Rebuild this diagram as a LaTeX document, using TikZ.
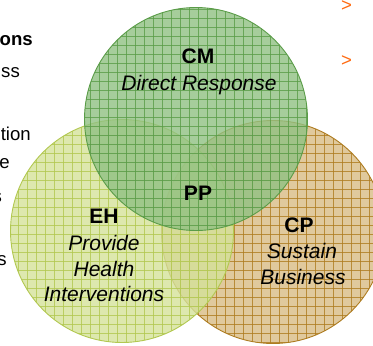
\documentclass[tikz,border=0pt]{standalone}
\usepackage{fontspec}
\setmainfont{Liberation Sans}
\usetikzlibrary{positioning}

\definecolor{cmfill}{HTML}{90C182}
\definecolor{cmline}{HTML}{5A9C48}
\definecolor{ehfill}{HTML}{D4E29A}
\definecolor{ehline}{HTML}{B2C850}
\definecolor{cpfill}{HTML}{D8BB84}
\definecolor{cpline}{HTML}{AE7C20}
\definecolor{arrowor}{HTML}{FF6A10}

\tikzset{
  title/.style={font=\fontsize{21}{25}\selectfont\bfseries, anchor=base, inner sep=0pt},
  sub/.style={font=\fontsize{21}{25}\selectfont\itshape, anchor=base, inner sep=0pt},
  side/.style={font=\fontsize{18.6}{22}\selectfont, anchor=base east, inner sep=0pt},
  bullet/.style={font=\fontsize{18.6}{22}\selectfont, text=arrowor, anchor=base west, inner sep=0pt}
}

% disc with grid pattern: centre, fill colour, line colour
\newcommand{\griddisc}[3]{%
  \begin{scope}
    \clip #1 circle (111.5pt);
    \fill[#2, fill opacity=0.8] #1 circle (111.5pt);
    \foreach \k in {0,9,...,390} {
      \draw[#3, line width=0.6pt, opacity=0.8] (\k,-5) -- (\k,355);
      \draw[#3, line width=0.6pt, opacity=0.8] (-5,\k) -- (385,\k);
    }
  \end{scope}
  \draw[#3, line width=0.9pt] #1 circle (111.5pt);
}

\begin{document}
\begin{tikzpicture}[x=1pt,y=-1pt]
        \useasboundingbox (0,0) rectangle (373,346);

        % circles
        \griddisc{(273,232)}{cpfill}{cpline}
        \griddisc{(122,231)}{ehfill}{ehline}
        \griddisc{(196,119)}{cmfill}{cmline}

        % labels
        \node [title] (cm) at (198,63) {CM};
        \node [sub] (cm1) at (199,90) {Direct Response};
        \node [title] (pp) at (198,200) {PP};
        \node [title] (eh) at (104,223) {EH};
        \node [sub] (eh1) at (104,250) {Provide};
        \node [sub] (eh2) at (104,276) {Health};
        \node [sub] (eh3) at (104,301) {Interventions};
        \node [title] (cp) at (299,232) {CP};
        \node [sub] (cp1) at (302,258) {Sustain};
        \node [sub] (cp2) at (303,284) {Business};

        % cut-off text at the sides
        \node [side, font=\fontsize{18.6}{22}\selectfont\bfseries] (t1) at (33,45) {ons};
        \node [side] (t2) at (20,77) {ss};
        \node [side] (t3) at (31,140) {tion};
        \node [side] (t4) at (10,168) {e};
        \node [side] (t5) at (2,202) {s};
        \node [side] (t6) at (7,265) {s};
        \node [bullet] (m1) at (341,11) {>};
        \node [bullet] (m2) at (341,66) {>};
      \end{tikzpicture}
\end{document}
